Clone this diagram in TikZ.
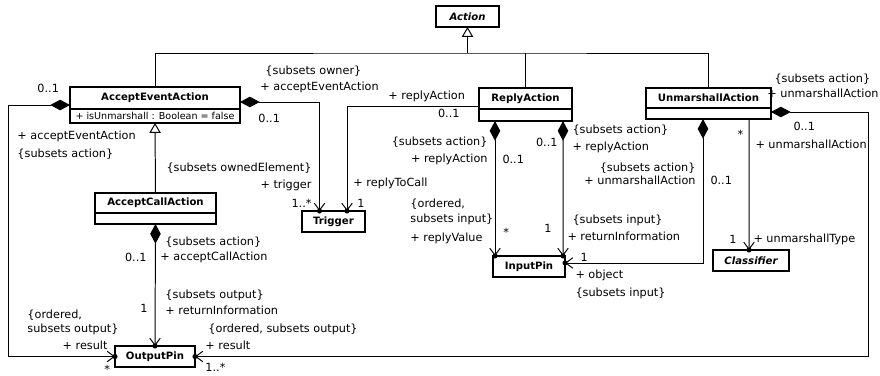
\documentclass[tikz,border=0pt]{standalone}
\usepackage{fontspec}
\setmainfont{DejaVu Sans}
\usetikzlibrary{arrows.meta, calc, positioning}

\newlength{\pxu}
\setlength{\pxu}{0.025cm}

\begin{document}
\begin{tikzpicture}[x=0.025cm, y=-0.025cm, line width=0.7pt,
    cls/.style={draw, line width=0.75pt, fill=white, inner sep=0pt, outer sep=0pt,
        font=\bfseries\fontsize{7.2}{8}\selectfont},
    abscls/.style={cls, font=\bfseries\itshape\fontsize{7.2}{8}\selectfont},
    compart/.style={draw, line width=0.75pt, fill=white, inner sep=0pt, outer sep=0pt,
        font=\fontsize{6.8}{8}\selectfont},
    lbl/.style={inner sep=0pt, font=\fontsize{8}{9.5}\selectfont},
    gen/.style={-{Triangle[open, length=7pt, width=8pt, fill=white]}},
    nav/.style={-{Straight Barb[length=5pt, width=7.5pt]}},
    own/.style={{Diamond[length=14pt, width=7.5pt]}-{Straight Barb[length=5pt, width=7.5pt]}},
]

    \useasboundingbox (0,0) rectangle (880,375);

    % =================================================================
    % CLASSES
    % =================================================================
    \node[abscls, minimum width=63\pxu, minimum height=21\pxu] (Action) at (467.5,16.5) {Action};

    \node[cls, minimum width=170\pxu, minimum height=22\pxu] (AEA) at (155,98) {AcceptEventAction};
    \node[compart, minimum width=170\pxu, minimum height=14\pxu, below=0pt of AEA] (AEAatt) {+ isUnmarshall : Boolean = false};

    \node[cls, minimum width=121\pxu, minimum height=20\pxu] (ACA) at (155.5,203) {AcceptCallAction};
    \node[compart, minimum width=121\pxu, minimum height=11\pxu, below=0pt of ACA] (ACAcomp) {};

    \node[cls, minimum width=93\pxu, minimum height=21\pxu] (RA) at (525.5,98.5) {ReplyAction};
    \node[compart, minimum width=93\pxu, minimum height=12\pxu, below=0pt of RA] (RAcomp) {};

    \node[cls, minimum width=125\pxu, minimum height=20\pxu] (UA) at (708.5,98) {UnmarshallAction};
    \node[compart, minimum width=125\pxu, minimum height=11\pxu, below=0pt of UA] (UAcomp) {};

    \node[cls, minimum width=63\pxu, minimum height=21\pxu] (Trigger) at (333.5,221.5) {Trigger};
    \node[cls, minimum width=72\pxu, minimum height=21\pxu] (InputPin) at (529,266.5) {InputPin};
    \node[abscls, minimum width=76\pxu, minimum height=21\pxu] (Classifier) at (751,260.5) {Classifier};
    \node[cls, minimum width=80\pxu, minimum height=21\pxu] (OutputPin) at (155,356.5) {OutputPin};

    % =================================================================
    % GENERALIZATIONS
    % =================================================================
    \coordinate (genbar) at (467.5,53);
    \draw (AEA.north) |- (genbar) -| (UA.north);
    \draw (RA.north) -- (RA.north |- genbar);
    \draw[gen] (genbar) -- (Action.south);
    \draw[gen] (ACA.north) -- (AEAatt.south);

    % =================================================================
    % ASSOCIATIONS
    % =================================================================
    % Connector end points
    \coordinate (aeaL) at ($(AEA.west)+(0,7)$);
    \coordinate (aeaR) at ($(AEA.east)+(0,4)$);
    \coordinate (raL) at ($(RA.west)+(0,7.5)$);
    \coordinate (raB1) at ($(RAcomp.south)+(-30.5,0)$);
    \coordinate (raB2) at ($(RAcomp.south)+(37.5,0)$);
    \coordinate (uaB1) at ($(UAcomp.south)+(-5.5,0)$);
    \coordinate (uaB2) at ($(UAcomp.south)+(40.5,0)$);
    \coordinate (uaR) at ($(UAcomp.east)+(0,-1.5)$);
    \coordinate (trgA) at ($(Trigger.north)+(-14,0)$);
    \coordinate (trgB) at ($(Trigger.north)+(13.5,0)$);
    \coordinate (inA) at ($(InputPin.north)+(-34,0)$);
    \coordinate (inB) at ($(InputPin.north)+(34,0)$);
    \coordinate (inC) at ($(InputPin.east)+(0,-3.5)$);
    \coordinate (clsT) at ($(Classifier.north)+(-2,0)$);
    \coordinate (leftrail) at (8,356.5);
    \coordinate (rightrail) at (868,356.5);

    \draw[own] (aeaL) -| (leftrail) -- (OutputPin.west);
    \draw[own] (aeaR) -| (trgA);
    \draw[nav] (raL) -| (trgB);
    \draw[own] (raB1) -- (inA);
    \draw[own] (raB2) -- (inB);
    \draw[own] (uaB1) |- (inC);
    \draw[nav] (uaB2) -- (clsT);
    \draw[own] (uaR) -| (rightrail) -- (OutputPin.east);
    \draw[own] (ACAcomp.south) -- (OutputPin.north);

    % Ownership dots
    \foreach \p in {OutputPin.west, OutputPin.east, OutputPin.north, trgA, trgB, inA, inB, inC, clsT}
        \fill (\p) circle[radius=1.8pt];

    % =================================================================
    % ROLE NAMES AND MULTIPLICITIES
    % =================================================================
    % AcceptEventAction - OutputPin
    \node[lbl, anchor=west] (m1) at (37,88) {0..1};
    \node[lbl, anchor=west] (r1) at (17,136) {+ acceptEventAction};
    \node[lbl, anchor=west] (s1) at (17,154) {\{subsets action\}};
    \node[lbl, anchor=west] (s2) at (27,315) {\{ordered,};
    \node[lbl, anchor=west] (s3) at (27,329) {subsets output\}};
    \node[lbl, anchor=east] (r2) at (108,345) {+ result};
    \node[lbl, anchor=west] (m2) at (104,369) {*};

    % AcceptEventAction - Trigger
    \node[lbl, anchor=west] (s4) at (265,71) {\{subsets owner\}};
    \node[lbl, anchor=west] (r3) at (260,87) {+ acceptEventAction};
    \node[lbl, anchor=west] (m3) at (258,118) {0..1};
    \node[lbl, anchor=east] (s5) at (312,168) {\{subsets ownedElement\}};
    \node[lbl, anchor=east] (r4) at (312,185) {+ trigger};
    \node[lbl, anchor=east] (m4) at (312,203) {1..*};

    % ReplyAction - Trigger
    \node[lbl, anchor=west] (r5) at (388,96) {+ replyAction};
    \node[lbl, anchor=east] (m5) at (460,113) {0..1};
    \node[lbl, anchor=west] (r6) at (353,183) {+ replyToCall};
    \node[lbl, anchor=west] (m6) at (357,203) {1};

    % ReplyAction - InputPin (replyValue)
    \node[lbl, anchor=east] (s6) at (488,142) {\{subsets action\}};
    \node[lbl, anchor=east] (r7) at (488,159) {+ replyAction};
    \node[lbl, anchor=west] (m7) at (502,159) {0..1};
    \node[lbl, anchor=west] (s7) at (410,204) {\{ordered,};
    \node[lbl, anchor=west] (s8) at (410,219) {subsets input\}};
    \node[lbl, anchor=east] (r8) at (483,238) {+ replyValue};
    \node[lbl, anchor=west] (m8) at (503,232) {*};

    % ReplyAction - InputPin (returnInformation)
    \node[lbl, anchor=east] (m9) at (558,142) {0..1};
    \node[lbl, anchor=west] (s9) at (572,130) {\{subsets action\}};
    \node[lbl, anchor=west] (r9) at (572,147) {+ replyAction};
    \node[lbl, anchor=east] (m10) at (552,228) {1};
    \node[lbl, anchor=west] (s10) at (572,220) {\{subsets input\}};
    \node[lbl, anchor=west] (r10) at (567,236) {+ returnInformation};

    % UnmarshallAction - InputPin
    \node[lbl, anchor=east] (s11) at (696,168) {\{subsets action\}};
    \node[lbl, anchor=east] (r11) at (696,180) {+ unmarshallAction};
    \node[lbl, anchor=west] (m11) at (710,180) {0..1};
    \node[lbl, anchor=west] (m12) at (580,257) {1};
    \node[lbl, anchor=west] (r12) at (575,275) {+ object};
    \node[lbl, anchor=west] (s12) at (575,293) {\{subsets input\}};

    % UnmarshallAction - Classifier
    \node[lbl, anchor=west] (m13) at (737,134) {*};
    \node[lbl, anchor=west] (r13) at (755,144) {+ unmarshallAction};
    \node[lbl, anchor=east] (m14) at (737,239) {1};
    \node[lbl, anchor=west] (r14) at (753,239) {+ unmarshallType};

    % UnmarshallAction - OutputPin
    \node[lbl, anchor=west] (s13) at (774,79) {\{subsets action\}};
    \node[lbl, anchor=east] (r15) at (879,93) {+ unmarshallAction};
    \node[lbl, anchor=west] (m15) at (793,126) {0..1};
    \node[lbl, anchor=west] (s14) at (208,329) {\{ordered, subsets output\}};
    \node[lbl, anchor=west] (r16) at (205,345) {+ result};
    \node[lbl, anchor=west] (m16) at (205,367) {1..*};

    % AcceptCallAction - OutputPin
    \node[lbl, anchor=west] (s15) at (165,242) {\{subsets action\}};
    \node[lbl, anchor=west] (r17) at (160,257) {+ acceptCallAction};
    \node[lbl, anchor=east] (m17) at (147,257) {0..1};
    \node[lbl, anchor=west] (s16) at (165,295) {\{subsets output\}};
    \node[lbl, anchor=west] (r18) at (165,310) {+ returnInformation};
    \node[lbl, anchor=east] (m18) at (148,308) {1};

\end{tikzpicture}
\end{document}
